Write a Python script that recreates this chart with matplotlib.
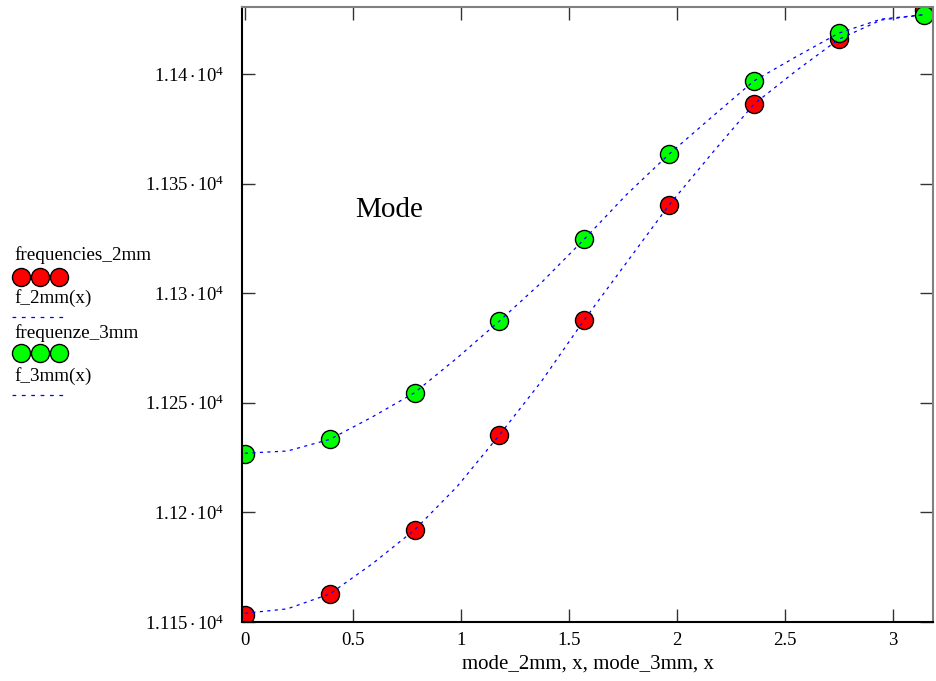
import numpy as np
import matplotlib
matplotlib.use("Agg")
import matplotlib.pyplot as plt
from matplotlib.lines import Line2D
from matplotlib.ticker import FuncFormatter

#----------- Data -----------#
# mode index k -> x = k*pi/8
mode_x = [0.0, 0.3927, 0.7854, 1.1781, 1.5708, 1.9635, 2.3562, 2.7489, 3.1416]
frequencies_2mm = [11153.2, 11162.8, 11192.0, 11235.3, 11287.8, 11340.2, 11386.2, 11415.8, 11429.0]
frequenze_3mm = [11226.5, 11233.3, 11254.6, 11287.3, 11324.6, 11363.4, 11396.8, 11418.6, 11426.9]

# fitted curves at half steps
fit_x = [0.0, 0.1963, 0.3927, 0.5890, 0.7854, 0.9817, 1.1781, 1.3744, 1.5708,
         1.7671, 1.9635, 2.1598, 2.3562, 2.5525, 2.7489, 2.9452, 3.1416]
f_2mm = [11154.0, 11156.0, 11162.8, 11176.5, 11192.0, 11211.7, 11235.3, 11260.0, 11287.8,
         11314.0, 11340.2, 11363.5, 11386.2, 11401.5, 11415.8, 11424.6, 11427.0]
f_3mm = [11227.0, 11228.0, 11233.3, 11243.5, 11254.6, 11270.4, 11287.3, 11305.0, 11324.6,
         11345.0, 11363.4, 11380.2, 11396.8, 11407.9, 11418.6, 11425.0, 11427.0]

x_ticks = [0, 0.5, 1, 1.5, 2, 2.5, 3]
y_ticks = [11150, 11200, 11250, 11300, 11350, 11400]

#----------- Style -----------#
SERIF = "Liberation Serif"
plt.rcParams["font.family"] = SERIF
plt.rcParams["mathtext.fontset"] = "custom"
plt.rcParams["mathtext.rm"] = SERIF
plt.rcParams["mathtext.it"] = SERIF + ":italic"
BLUE = "#0000ff"
RED = "#ff0000"
GREEN = "#00ff00"
GREY = "#808080"
W, H = 937.0, 681.0
MS = 13

fig = plt.figure(figsize=(9.37, 6.81), dpi=100)
ax = fig.add_axes([0.2586, 0.0866, 0.9961 - 0.2586, 0.9893 - 0.0866])

dash = (0, (2.5, 3.5))
ax.plot(fit_x, f_2mm, color=BLUE, lw=0.9, linestyle=dash, zorder=3)
ax.plot(fit_x, f_3mm, color=BLUE, lw=0.9, linestyle=dash, zorder=3)
ax.plot(mode_x, frequencies_2mm, linestyle="none", marker="o", ms=MS,
        mfc=RED, mec="black", mew=1.0, zorder=2)
ax.plot(mode_x, frequenze_3mm, linestyle="none", marker="o", ms=MS,
        mfc=GREEN, mec="black", mew=1.0, zorder=2)

ax.set_xlim(-0.012, 3.187)
ax.set_ylim(11150, 11430.4)
ax.set_xticks(x_ticks)
ax.set_yticks(y_ticks)
ax.xaxis.set_major_formatter(FuncFormatter(lambda v, p: "%g" % v))
ax.yaxis.set_major_formatter(FuncFormatter(
    lambda v, p: r"$\mathregular{%g\,{\cdot}\,10^{4}}$" % (v / 1e4)))
ax.tick_params(direction="in", length=9.5, width=1.0, color="#333333",
               top=True, right=True, labelsize=13.5)
ax.tick_params(axis="y", pad=13)
ax.tick_params(axis="x", pad=7)

for side in ["left", "bottom"]:
    ax.spines[side].set_color("black")
    ax.spines[side].set_linewidth(1.5)
for side in ["top", "right"]:
    ax.spines[side].set_color(GREY)
    ax.spines[side].set_linewidth(1.5)

ax.set_xlabel("mode_2mm, x, mode_3mm, x", fontsize=15, labelpad=4)

def fy(y):
    return 1 - y / H

fig.text(355 / W, fy(217), "Mode", fontsize=21, va="baseline", ha="left")

#----------- Legend drawn by hand on the left -----------#
legend_rows = [
    ("frequencies_2mm", 255, RED, 277, "m"),
    ("f_2mm(x)", 298, BLUE, 317, "l"),
    ("frequenze_3mm", 333, GREEN, 353, "m"),
    ("f_3mm(x)", 376, BLUE, 395, "l"),
]
for label, ty, col, my, kind in legend_rows:
    fig.text(14 / W, fy(ty), label, fontsize=13.8, va="center", ha="left")
    if kind == "m":
        fig.add_artist(Line2D([21 / W, 40 / W, 59 / W], [fy(my)] * 3,
                              transform=fig.transFigure, linestyle="none",
                              marker="o", ms=MS, mfc=col, mec="black", mew=1.0))
    else:
        fig.add_artist(Line2D([12 / W, 63 / W], [fy(my)] * 2,
                              transform=fig.transFigure, color=col, lw=0.9,
                              linestyle=(0, (3, 4.5))))

fig.savefig("out.png", dpi=100)
